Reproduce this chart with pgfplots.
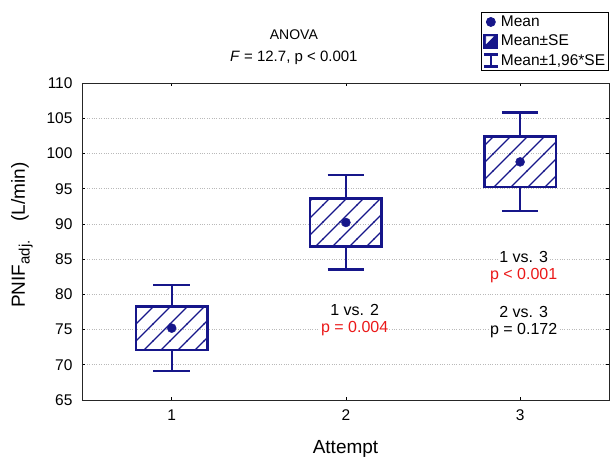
\documentclass[border=0pt]{standalone}
\usepackage{pgfplots}
\pgfplotsset{compat=1.18}
\usetikzlibrary{patterns,calc}
\usepackage{fontspec}
\setmainfont{Liberation Sans}
\definecolor{navy}{RGB}{22,22,138}
\definecolor{pred}{RGB}{235,25,25}

% wide 45 degree hatching
\pgfdeclarepatternformonly{widehatch}{\pgfqpoint{-1pt}{-1pt}}{\pgfqpoint{18pt}{18pt}}{\pgfqpoint{17pt}{17pt}}{%
  \pgfsetlinewidth{1.3pt}%
  \pgfpathmoveto{\pgfqpoint{-0.5pt}{-0.5pt}}%
  \pgfpathlineto{\pgfqpoint{17.5pt}{17.5pt}}%
  \pgfusepath{stroke}}

\pgfplotsset{
  sebox/.style={navy, line width=2.4pt, line join=miter, pattern=widehatch, pattern color=navy, forget plot},
  whisk/.style={navy, line width=2.4pt, unbounded coords=jump, forget plot},
}

\begin{document}
\begin{tikzpicture}
\begin{axis}[
  name=ax, scale only axis, width=527pt, height=317pt,
  xmin=0.485, xmax=3.51, ymin=65, ymax=110,
  xtick={1,2,3}, ytick={65,70,...,110},
  tick align=inside, major tick length=3pt,
  tick style={black, line width=0.6pt},
  axis line style={black!85, line width=0.8pt},
  ymajorgrids, major grid style={gray!55, dotted, line width=0.7pt},
  /pgf/number format/assume math mode=true,
  tick label style={font=\fontsize{15.5}{17}\selectfont},
  xticklabel style={yshift=-6pt},
  yticklabel style={xshift=-6pt},
  xlabel={Attempt},
  ylabel={PNIF\raisebox{-0.45ex}{\fontsize{15}{17}\selectfont adj.}\quad(L/min)},
  every axis x label/.style={at={(axis description cs:0.5,-0.155)}, anchor=center,
    font=\fontsize{19}{21}\selectfont},
  every axis y label/.style={at={(axis description cs:-0.114,0.52)}, rotate=90, anchor=center,
    font=\fontsize{19}{21}\selectfont},
  clip=false,
  legend style={at={(rel axis cs:1,1.224)}, anchor=north east, draw=black,
    line width=0.8pt, fill=white, font=\fontsize{15.5}{17}\selectfont,
    inner sep=1.5pt, row sep=3pt},
  legend cell align=left,
]
% legend
\addlegendimage{legend image code/.code={\fill[navy] (7pt,0pt) circle (4.5pt);}}
\addlegendentry{Mean}
\addlegendimage{legend image code/.code={
  \fill[navy] (0pt,-7pt) rectangle (14pt,7pt);
  \fill[white] (2.5pt,-2pt) -- (2.5pt,4.5pt) -- (9pt,4.5pt) -- cycle;}}
\addlegendentry{Mean±SE}
\addlegendimage{legend image code/.code={
  \draw[navy, line width=2.2pt] (0pt,-6pt) -- (14pt,-6pt) (7pt,-6pt) -- (7pt,6pt) (0pt,6pt) -- (14pt,6pt);}}
\addlegendentry{Mean±1,96*SE}

% whiskers: mean ± 1.96*SE
\addplot[whisk] coordinates {(1,78.3)(1,81.3) (nan,nan) (0.895,81.3)(1.105,81.3) (nan,nan)
  (1,72.1)(1,69.1) (nan,nan) (0.895,69.1)(1.105,69.1)};
\addplot[whisk] coordinates {(2,93.6)(2,96.9) (nan,nan) (1.895,96.9)(2.105,96.9) (nan,nan)
  (2,86.8)(2,83.5) (nan,nan) (1.895,83.5)(2.105,83.5)};
\addplot[whisk] coordinates {(3,102.4)(3,105.8) (nan,nan) (2.895,105.8)(3.105,105.8) (nan,nan)
  (3,95.2)(3,91.8) (nan,nan) (2.895,91.8)(3.105,91.8)};
% boxes: mean ± SE
\addplot[sebox] coordinates {(0.795,72.1)(1.205,72.1)(1.205,78.3)(0.795,78.3)(0.795,72.1)(1.205,72.1)};
\addplot[sebox] coordinates {(1.795,86.8)(2.205,86.8)(2.205,93.6)(1.795,93.6)(1.795,86.8)(2.205,86.8)};
\addplot[sebox] coordinates {(2.795,95.2)(3.205,95.2)(3.205,102.4)(2.795,102.4)(2.795,95.2)(3.205,95.2)};
% means
\addplot[forget plot, only marks, mark=*, mark size=4.5pt, navy]
  coordinates {(1,75.2) (2,90.2) (3,98.8)};

% annotations
\node[fill=white, inner sep=1pt, font=\fontsize{16}{18}\selectfont] at (axis cs:2.05,77.8) {1 vs. 2};
\node[fill=white, inner sep=1pt, font=\fontsize{16}{18}\selectfont, text=pred] at (axis cs:2.05,75.1) {p = 0.004};
\node[fill=white, inner sep=1pt, font=\fontsize{16}{18}\selectfont] at (axis cs:3.02,85.3) {1 vs. 3};
\node[fill=white, inner sep=1pt, font=\fontsize{16}{18}\selectfont, text=pred] at (axis cs:3.02,82.6) {p < 0.001};
\node[fill=white, inner sep=1pt, font=\fontsize{16}{18}\selectfont] at (axis cs:3.02,77.5) {2 vs. 3};
\node[fill=white, inner sep=1pt, font=\fontsize{16}{18}\selectfont] at (axis cs:3.02,74.9) {p = 0.172};

% title
\node[font=\fontsize{14}{16}\selectfont] at (rel axis cs:0.402,1.151) {ANOVA};
\node[font=\fontsize{15}{17}\selectfont] at (rel axis cs:0.402,1.079) {\textit{F} = 12.7, p < 0.001};
\end{axis}
\pgfresetboundingbox
\path[use as bounding box] ($(ax.south west)+(-82pt,-60pt)$) rectangle ($(ax.north east)+(1pt,83pt)$);
\end{tikzpicture}
\end{document}
